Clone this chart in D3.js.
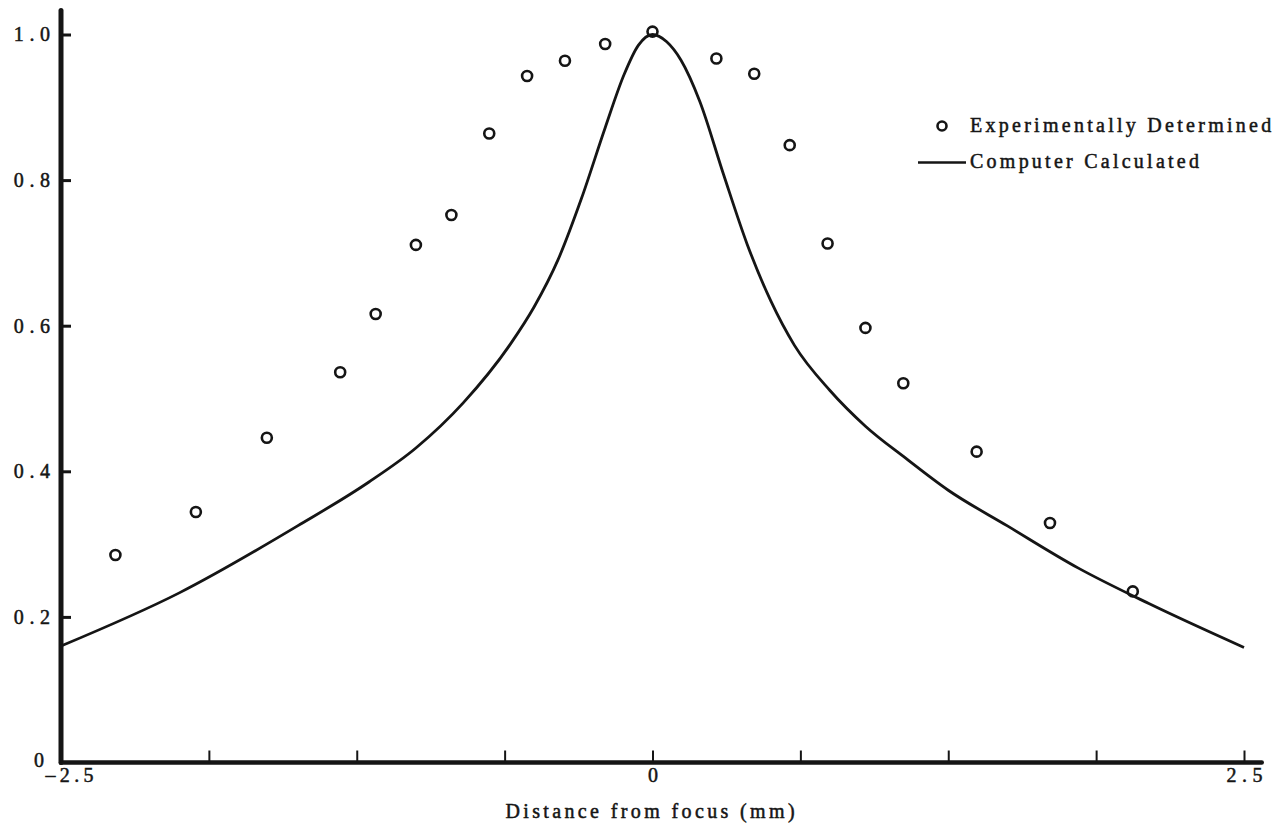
<!DOCTYPE html>
<html>
<head>
<meta charset="utf-8">
<script src="https://cdn.jsdelivr.net/npm/d3@7"></script>
<style>
  html, body { margin: 0; padding: 0; background: #fff; }
  svg { display: block; }
  text { font-family: "Liberation Serif", "DejaVu Serif", serif; fill: #151515; stroke: #151515; stroke-width: 0.5px; }
</style>
</head>
<body>
<svg id="chart" width="1280" height="833"></svg>
<script>
// Measured relative intensity vs. distance from focus (mm)
const expX = [-2.27, -1.93, -1.63, -1.32, -1.17, -1.00, -0.85, -0.69, -0.53, -0.37, -0.20, 0.00,
              0.27, 0.43, 0.58, 0.74, 0.90, 1.06, 1.37, 1.68, 2.03];
const expY = [0.285, 0.344, 0.446, 0.536, 0.616, 0.711, 0.752, 0.864, 0.943, 0.964, 0.987, 1.004,
              0.967, 0.946, 0.848, 0.713, 0.597, 0.521, 0.427, 0.329, 0.235];

// Computed profile
const calcX = [-2.50, -2.00, -1.50, -1.20, -1.00, -0.80, -0.60, -0.50, -0.40, -0.30, -0.20, -0.12, -0.06, 0.00,
               0.06, 0.12, 0.20, 0.30, 0.40, 0.50, 0.60, 0.75, 0.90, 1.07, 1.25, 1.50, 1.80, 2.10, 2.50];
const calcY = [0.160, 0.233, 0.325, 0.385, 0.432, 0.494, 0.575, 0.626, 0.690, 0.775, 0.872, 0.945, 0.985, 1.000,
               0.990, 0.965, 0.908, 0.808, 0.712, 0.634, 0.573, 0.511, 0.462, 0.418, 0.374, 0.325, 0.267, 0.218, 0.158];

const xTicks = [-2.5, -1.875, -1.25, -0.625, 0, 0.625, 1.25, 1.875, 2.5];
const xTickLabels = {"-2.5": "\u20132.5", "0": "0", "2.5": "2.5"};
const yTicks = [0, 0.2, 0.4, 0.6, 0.8, 1.0];

const legendLabels = ["Experimentally Determined", "Computer Calculated"];
const xTitle = "Distance from focus (mm)";

const svg = d3.select("#chart");
const ink = "#151515";
const charW = 12.05;   // typewriter pitch
const fit = sel => sel.each(function () {
  const s = this.textContent;
  if (s.length > 1) d3.select(this).attr("textLength", s.length * charW).attr("lengthAdjust", "spacing");
});

const x = d3.scaleLinear().domain([-2.5, 2.5]).range([61, 1244]);
const y = d3.scaleLinear().domain([0, 1]).range([762.5, 34.5]);

// Axis lines, extended a little past the data range
svg.append("line")
  .attr("x1", x(-2.5)).attr("x2", x(-2.5))
  .attr("y1", y(0)).attr("y2", y(1.033))
  .attr("stroke", ink).attr("stroke-width", 5).attr("stroke-linecap", "round");
svg.append("line")
  .attr("x1", x(-2.5)).attr("x2", x(2.575))
  .attr("y1", y(0)).attr("y2", y(0))
  .attr("stroke", ink).attr("stroke-width", 4.5).attr("stroke-linecap", "round");

// X axis: inward ticks, labels at ends and centre
const xAxis = d3.axisBottom(x)
  .tickValues(xTicks)
  .tickSize(-12)
  .tickPadding(5)
  .tickFormat(d => xTickLabels[String(d)] || "");
const gx = svg.append("g").attr("transform", `translate(0,${y(0)})`).call(xAxis);
gx.select(".domain").remove();
gx.selectAll(".tick line").attr("stroke", ink).attr("stroke-width", 2);
gx.selectAll(".tick text").attr("font-size", 20).attr("font-family", null)
  .attr("dx", d => d === -2.5 ? 8 : 0)
  .call(fit);

// Y axis: inward ticks
const yAxis = d3.axisLeft(y)
  .tickValues(yTicks)
  .tickSize(-10)
  .tickPadding(11)
  .tickFormat(d => d === 0 ? "0" : d3.format(".1f")(d));
const gy = svg.append("g").attr("transform", `translate(${x(-2.5)},0)`).call(yAxis);
gy.select(".domain").remove();
gy.selectAll(".tick line").attr("stroke", ink).attr("stroke-width", 3)
  .attr("display", d => d === 0 ? "none" : null);
gy.selectAll(".tick text").attr("font-size", 20).attr("font-family", null)
  .attr("dy", d => d === 0 ? "0.22em" : "0.32em")
  .attr("dx", d => d === 0 ? -6 : 0)
  .call(fit);

// Computed curve
const calc = calcX.map((v, i) => [v, calcY[i]]);
svg.append("path")
  .datum(calc)
  .attr("fill", "none")
  .attr("stroke", ink)
  .attr("stroke-width", 2.8)
  .attr("stroke-linejoin", "round")
  .attr("d", d3.line().x(d => x(d[0])).y(d => y(d[1])).curve(d3.curveMonotoneX));

// Measured points
const exp = expX.map((v, i) => [v, expY[i]]);
svg.append("g").selectAll("circle")
  .data(exp)
  .join("circle")
  .attr("cx", d => x(d[0]))
  .attr("cy", d => y(d[1]))
  .attr("r", 5)
  .attr("fill", "none")
  .attr("stroke", ink)
  .attr("stroke-width", 2.6);

// Legend
const lg = svg.append("g");
lg.append("circle").attr("cx", 942).attr("cy", 126).attr("r", 4.5)
  .attr("fill", "none").attr("stroke", ink).attr("stroke-width", 2.6);
lg.append("text").attr("x", 970).attr("y", 132).attr("font-size", 20).text(legendLabels[0]).call(fit);
lg.append("line").attr("x1", 918).attr("x2", 966).attr("y1", 162.5).attr("y2", 162.5)
  .attr("stroke", ink).attr("stroke-width", 2.6);
lg.append("text").attr("x", 970).attr("y", 168).attr("font-size", 20).text(legendLabels[1]).call(fit);

// Axis title
svg.append("text")
  .attr("x", 650).attr("y", 818)
  .attr("text-anchor", "middle")
  .attr("font-size", 20)
  .text(xTitle)
  .call(fit);
</script>
</body>
</html>
